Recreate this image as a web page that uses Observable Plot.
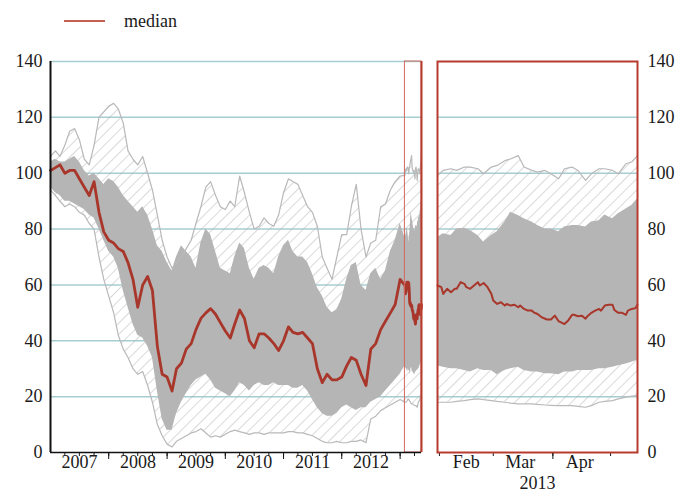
<!DOCTYPE html>
<html>
<head>
<meta charset="utf-8">
<script src="https://cdn.jsdelivr.net/npm/d3@7"></script>
<script src="https://cdn.jsdelivr.net/npm/@observablehq/plot@0.6"></script>
<style>
  body { margin: 0; background: #fff; }
  #wrap { position: relative; width: 680px; height: 495px; font-family: "Liberation Serif", "Times New Roman", serif; color: #1a1a1a; }
  #charts { position: absolute; left: 0; top: 0; display: flex; }
  #legend { position: absolute; left: 0; top: 0; width: 680px; height: 40px; z-index: 2; }
  #legend .swatch { position: absolute; left: 64px; top: 20px; width: 41px; height: 2px; background: #c4604f; }
  #legend .label { position: absolute; left: 124px; top: 10px; font-size: 18px; line-height: 22px; }
</style>
</head>
<body>
<svg width="0" height="0" style="position:absolute">
  <defs>
    <pattern id="hatch" patternUnits="userSpaceOnUse" width="8" height="8" patternTransform="rotate(45)">
      <line x1="0" y1="0" x2="0" y2="8" stroke="#b4b4b4" stroke-width="1"></line>
    </pattern>
  </defs>
</svg>
<div id="wrap">
  <div id="charts"></div>
  <div id="legend"><div class="swatch"></div><div class="label">median</div></div>
</div>
<script>
// ---------- data ----------
// monthly readings, Jan 2007 .. Jan 2013 (73 months)
const monthlyDates = d3.utcMonths(new Date("2007-01-01"), new Date("2013-01-02"));
const maxMonthly = [106,108,106,110,115,116,112,105,103,110, 120,122,124,125,123,118,108,105,103,106,
  100,94,85,76,70,66,68,70,73,76, 82,88,95,97,92,88,87,90,88,99, 93,86,80,81,84,82,81,85,93,98,
  97,96,92,88,86,81,70,66,62,70, 78,78,88,96,80,70,75,76,88,89, 94,97,99];
const upperMonthly = [104,105,104,104,105,106,104,101,99,100, 98,96,98,97,95,92,90,88,86,88,
  85,80,74,72,68,65,70,74,72,70, 66,75,80,78,72,66,65,64,70,75, 73,66,62,66,67,66,64,70,74,76,
  72,70,70,68,64,59,56,52,50,51, 55,62,67,68,60,58,64,66,62,65, 72,76,82];
const medianMonthly = [101,102,103,100,101,101,98,95,92,97, 86,79,76,75,73,72,68,62,52,60,
  63,58,38,28,27,22,30,32,37,39, 44,48,50,51.5,49.5,46.5,43.5,41,46,51, 48,40,37.5,42.5,42.5,41,39,36.5,40,45,
  43,42.5,43,41,39,30,25,28,26,26, 27,31,34,33,28,24,37,39,44,47, 50,53,62];
const lowerMonthly = [95,93,92,90,90,89,88,87,85,84, 80,76,72,70,66,58,52,46,42,41,
  38,34,22,12,8,8,14,18,21,24, 26,27,28,26,23,22,21,20,22,25, 24,22,24,25,24,24,25,24,24,24,
  23,23,24,22,19,16,14,13,13,14, 16,17,16,15,16,16,18,19,20,22, 24,26,28];
const minMonthly = [94,92,90,88,89,88,86,85,82,80, 70,62,56,50,42,37,34,30,28,29,
  24,18,10,6,3,2,4,5,6,7, 7.5,8.5,7,5.5,6,5.5,6.5,7.5,8,7.5, 7,6.5,7,7,6.5,7,7,7,7,7.5,
  7.5,7,7,6.5,6,5,4,3.5,3.5,4, 3.5,3.5,4,4,4.5,3.5,12,13,15,16, 17,18,19];

// recent period, 31 Jan - 15 May 2013
const bandDates = ["2013-01-31","2013-02-03","2013-02-07","2013-02-10","2013-02-14","2013-02-17","2013-02-21","2013-02-24","2013-02-28",
  "2013-03-03","2013-03-07","2013-03-10","2013-03-14","2013-03-17","2013-03-21","2013-03-24","2013-03-28","2013-03-31",
  "2013-04-04","2013-04-07","2013-04-11","2013-04-14","2013-04-18","2013-04-21","2013-04-25","2013-04-28",
  "2013-05-02","2013-05-05","2013-05-09","2013-05-12","2013-05-15"];
const maxRecent = [99.2,101,101.6,101,102.2,102.2,101.6,99.8,102.2,102.8,104.5,105.1,106.3,102.2,101,100.4,101,99.8,98,101.6,102.2,101,97.4,99.8,101.6,101.6,101,99.8,103.4,104,106.3];
const upperRecent = [77,78.3,77.7,80,80.3,79.5,77.7,75.3,77.7,79,82.5,86,84.9,83.7,82.5,81.3,80,80,79,80.7,81.3,81.3,80.7,82.5,83,85,83.7,85.5,87.2,88.4,90.8];
const lowerRecent = [31.1,30.5,30,30,29.4,28.8,30,29.4,29.4,27.8,29.4,30,30.5,29.4,28.8,28.8,28.2,28.2,27.8,28.8,28.8,29.4,29.4,29.4,30,30,30.5,31.1,31.7,32.3,33];
const minRecent = [18,18,18,18.3,18.6,18.9,19.2,18.9,18.6,18.3,18,17.7,17.4,17.4,17.4,17.2,17,16.9,16.8,16.8,16.8,16.5,16.2,16.8,18,18.3,18.6,19.2,19.8,20.2,20.4];
const medianDates = ["2013-01-31","2013-02-02","2013-02-03","2013-02-05","2013-02-07","2013-02-09","2013-02-10","2013-02-12","2013-02-14","2013-02-15",
  "2013-02-17","2013-02-19","2013-02-21","2013-02-22","2013-02-24","2013-02-26","2013-02-28","2013-03-01","2013-03-03","2013-03-05",
  "2013-03-07","2013-03-08","2013-03-10","2013-03-12","2013-03-14","2013-03-15","2013-03-17","2013-03-19","2013-03-21","2013-03-22",
  "2013-03-24","2013-03-26","2013-03-28","2013-03-29","2013-03-31","2013-04-02","2013-04-04","2013-04-05","2013-04-07","2013-04-09",
  "2013-04-11","2013-04-12","2013-04-14","2013-04-16","2013-04-18","2013-04-19","2013-04-21","2013-04-23","2013-04-25","2013-04-26",
  "2013-04-28","2013-04-30","2013-05-02","2013-05-03","2013-05-05","2013-05-07","2013-05-09","2013-05-10","2013-05-12","2013-05-14","2013-05-15"];
const medianRecent = [59.8,59.2,56.8,58.6,57.4,58.6,58.6,61,60.4,59.2, 58.6,59.8,61,59.8,60.7,59.2,56.8,54.4,53.2,53.8,
  52.6,53.2,52.6,52.9,52,52.6,51.4,50.8,50.8,50.2, 49.6,48.5,47.9,47.6,47.6,49,47,46.7,46,47.3,
  49.3,49.3,48.8,49,47.9,48.8,50,50.8,51.4,50.8, 52.6,52.9,52.9,51,50,50,49.3,50.8,51.4,51.7,52.9];

const yTicks = [0,20,40,60,80,100,120,140];
const years = [2007,2008,2009,2010,2011,2012];
const monthLabels = ["Feb","Mar","Apr"];

// ---------- tables ----------
const recentBand = bandDates.map((d,i) => ({date: new Date(d), hi: maxRecent[i], qh: upperRecent[i], ql: lowerRecent[i], lo: minRecent[i]}));
const fullBand = monthlyDates.map((d,i) => ({date: d, hi: maxMonthly[i], qh: upperMonthly[i], ql: lowerMonthly[i], lo: minMonthly[i]})).concat(recentBand);
const recentMedian = medianDates.map((d,i) => ({date: new Date(d), v: medianRecent[i]}));
const fullMedian = monthlyDates.map((d,i) => ({date: d, v: medianMonthly[i]})).concat(recentMedian);

const RED = "#a8362a", FRAME = "#b83b2f", GRID = "#a6cdcf", FILL = "#b5b5b5", LINE = "#b9b9b9";
const font = {fontFamily: "'Liberation Serif','Times New Roman',serif", fontSize: "18px", color: "#1a1a1a", background: "transparent", overflow: "visible"};
const hlStart = new Date("2013-01-31"), hlEnd = new Date("2013-05-15");

const left = Plot.plot({
  width: 430, height: 495,
  marginLeft: 50, marginRight: 9, marginTop: 61, marginBottom: 43,
  style: font,
  x: {type: "utc", domain: [new Date("2007-01-01"), hlEnd], ticks: d3.utcMonths(new Date("2007-04-01"), hlEnd, 3), tickSize: 4, tickFormat: () => "", label: null},
  y: {domain: [0, 140], ticks: yTicks, tickSize: 0, tickPadding: 8, label: null},
  marks: [
    Plot.ruleY(yTicks.filter(d => d > 0), {stroke: GRID, strokeWidth: 1.5}),
    Plot.areaY(fullBand, {x: "date", y1: "lo", y2: "hi", fill: "url(#hatch)"}),
    Plot.areaY(fullBand, {x: "date", y1: "ql", y2: "qh", fill: FILL}),
    Plot.lineY(fullBand, {x: "date", y: "hi", stroke: LINE, strokeWidth: 1.2}),
    Plot.lineY(fullBand, {x: "date", y: "lo", stroke: LINE, strokeWidth: 1.2}),
    Plot.lineY(fullMedian, {x: "date", y: "v", stroke: RED, strokeWidth: 2.8}),
    Plot.rect([0], {x1: () => hlStart, x2: () => hlEnd, y1: () => 0, y2: () => 140, fill: "none", stroke: "#cf6a60", strokeWidth: 1}),
    Plot.ruleX([hlEnd], {stroke: FRAME, strokeWidth: 2}),
    Plot.ruleY([0], {stroke: "#111", strokeWidth: 1.5}),
    Plot.ruleX([new Date("2007-01-01")], {stroke: "#111", strokeWidth: 2}),
    Plot.ruleX(d3.utcYears(new Date("2008-01-01"), hlEnd), {insetTop: 391, insetBottom: -7, stroke: "#111"}),
    Plot.text(years, {x: d => new Date(Date.UTC(d, 6, 2)), text: d => String(d), frameAnchor: "bottom", dy: 15, fontSize: 18})
  ]
});

const right = Plot.plot({
  width: 250, height: 495,
  marginLeft: 7, marginRight: 43, marginTop: 61, marginBottom: 43,
  style: font,
  x: {type: "utc", domain: [hlStart, hlEnd], ticks: d3.utcMonths(new Date("2013-02-01"), hlEnd), tickSize: 4, tickFormat: () => "", label: null},
  y: {domain: [0, 140], ticks: yTicks, axis: "right", tickSize: 0, tickPadding: 10, label: null},
  marks: [
    Plot.ruleY(yTicks.filter(d => d > 0 && d < 140), {stroke: GRID, strokeWidth: 1.5}),
    Plot.areaY(recentBand, {x: "date", y1: "lo", y2: "hi", fill: "url(#hatch)"}),
    Plot.areaY(recentBand, {x: "date", y1: "ql", y2: "qh", fill: FILL}),
    Plot.lineY(recentBand, {x: "date", y: "hi", stroke: LINE, strokeWidth: 1.2}),
    Plot.lineY(recentBand, {x: "date", y: "lo", stroke: LINE, strokeWidth: 1.2}),
    Plot.lineY(recentMedian, {x: "date", y: "v", stroke: RED, strokeWidth: 2}),
    Plot.frame({stroke: FRAME, strokeWidth: 2}),
    Plot.ruleX([new Date("2013-04-01")], {insetTop: 392, insetBottom: -7, stroke: "#111"}),
    Plot.text(monthLabels, {x: (d, i) => new Date(Date.UTC(2013, i + 1, 15)), text: d => d, frameAnchor: "bottom", dy: 15, fontSize: 18}),
    Plot.text(["2013"], {text: d => d, frameAnchor: "bottom", dy: 36, fontSize: 18})
  ]
});

document.getElementById("charts").append(left, right);
</script>
</body>
</html>
